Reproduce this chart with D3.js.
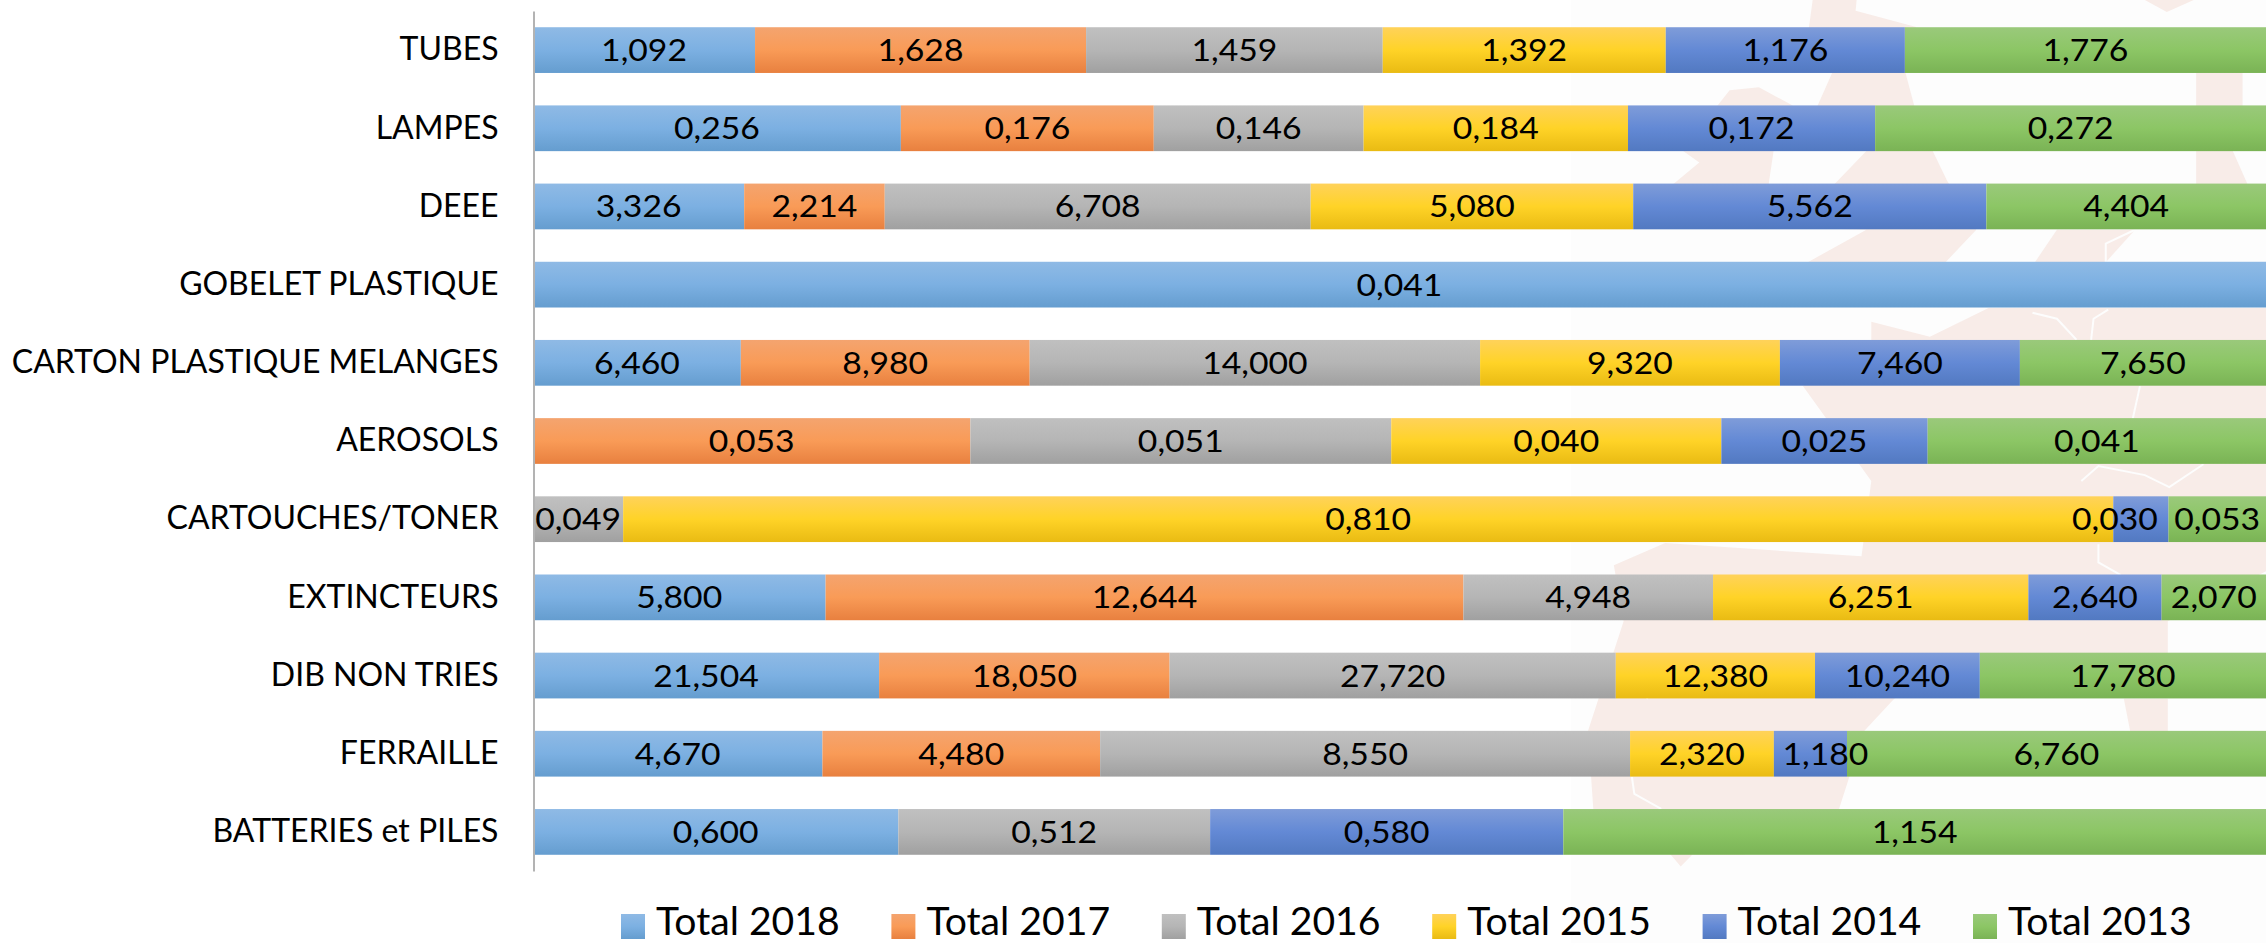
<!DOCTYPE html>
<html><head><meta charset="utf-8">
<script src="https://cdn.jsdelivr.net/npm/d3@7"></script>
<style>html,body{margin:0;padding:0;background:#fff}svg{display:block}text{font-family:Lato,"Noto Sans",sans-serif;fill:#000}</style>
</head><body><svg id="c" width="2266" height="943"></svg>
<script>
const categories=["TUBES","LAMPES","DEEE","GOBELET PLASTIQUE","CARTON PLASTIQUE MELANGES","AEROSOLS","CARTOUCHES/TONER","EXTINCTEURS","DIB NON TRIES","FERRAILLE","BATTERIES et PILES"];
const seriesNames=["Total 2018","Total 2017","Total 2016","Total 2015","Total 2014","Total 2013"];
const total2018=[1.092,0.256,3.326,0.041,6.460,0,0,5.800,21.504,4.670,0.600];
const total2017=[1.628,0.176,2.214,0,8.980,0.053,0,12.644,18.050,4.480,0];
const total2016=[1.459,0.146,6.708,0,14.000,0.051,0.049,4.948,27.720,8.550,0.512];
const total2015=[1.392,0.184,5.080,0,9.320,0.040,0.810,6.251,12.380,2.320,0];
const total2014=[1.176,0.172,5.562,0,7.460,0.025,0.030,2.640,10.240,1.180,0.580];
const total2013=[1.776,0.272,4.404,0,7.650,0.041,0.053,2.070,17.780,6.760,1.154];
const seriesValues=[total2018,total2017,total2016,total2015,total2014,total2013];
const gradients=[["#8fbae5","#7cb0e2","#659dcf"],["#f4a46f","#f99b57","#e8803f"],["#c0c0c0","#b5b5b5","#a0a0a0"],["#ffd25a","#ffd327","#e9bb13"],["#7f9cd9","#6389d5","#5279c1"],["#9ac97b","#8cc665","#7ab355"]];
// labels the original chart moved sideways to avoid collisions
const labelNudges={"CARTOUCHES/TONER|Total 2014":-26,"FERRAILLE|Total 2014":15};
// faint map watermark behind the plot (decoration, not data)
const watermark=[
 [[233,940],[338,903],[740,925],[760,800],[620,642],[760,565],[760,535],[880,560],[1000,512],[1568,512],[1568,950],[1367,1033],[1367,1086],[977,1086],[807,1162],[745,1216],[694,1345],[500,1421],[394,1421],[370,1441],[349,1421],[191,1345],[180,1216],[253,1033]],
 [[640,0],[730,0],[728,18],[852,45],[830,121],[848,176],[885,250],[915,300],[975,382],[912,436],[630,436],[750,382],[660,380],[685,306],[750,251],[660,251],[650,176],[680,121],[620,121]],
 [[560,251],[550,306],[355,306],[408,270],[375,251]],
 [[445,176],[470,150],[530,145],[600,176]],
 [[1320,0],[1420,0],[1365,20]],
 [[1425,121],[1520,121],[1520,176],[1500,251],[1530,306],[1425,306]],
 [[1095,436],[1140,382],[1300,382],[1240,436]],
 [[1277,1162],[1367,1162],[1367,1216],[1305,1292],[1290,1216]]
];
const watermarkLines=[
 [[1240,436],[1240,405],[1300,382]],
 [[1090,520],[1140,530],[1180,565]],
 [[1210,565],[1215,530],[1245,515]],
 [[1310,642],[1295,697]],
 [[1190,800],[1225,775],[1320,790],[1370,810],[1440,772]],
 [[1225,905],[1225,935],[1270,956]],
 [[310,1086],[330,1130],[300,1162]],
 [[270,1292],[275,1320],[330,1345]]
];
const fmt=v=>d3.format(".3f")(v).replace(".",",");
function stretch(sel,k){sel.each(function(){const l=this.getComputedTextLength();d3.select(this).attr("textLength",l*k).attr("lengthAdjust","spacingAndGlyphs");});}
const svg=d3.select("#c");
const W=2266,H=943;
const defs=svg.append("defs");
gradients.forEach((g,i)=>{const lg=defs.append("linearGradient").attr("id","g"+i).attr("x1",0).attr("y1",0).attr("x2",0).attr("y2",1);
 g.forEach((c,j)=>lg.append("stop").attr("offset",j/2).attr("stop-color",c));});
// background
svg.append("rect").attr("x",1571).attr("y",0).attr("width",W-1571).attr("height",H).attr("fill","#fdfdfd");
const wmX=d3.scaleLinear().domain([0,1568]).range([1500,2266]),wmY=d3.scaleLinear().domain([0,1568]).range([0,943]);
const wmLine=d3.line().x(d=>wmX(d[0])).y(d=>wmY(d[1]));
svg.append("g").selectAll("path").data(watermark).join("path").attr("d",p=>wmLine(p)+"Z").attr("fill","#f8ece8");
svg.append("g").selectAll("path").data(watermarkLines).join("path").attr("d",wmLine).attr("fill","none").attr("stroke","#fdfdfd").attr("stroke-width",2);
// scales
const x=d3.scaleLinear().domain([0,1]).range([533,2266]);
const y=d3.scaleBand().domain(categories).range([11,871]).paddingInner(0.415).paddingOuter(0.2075);
const rows=categories.map((c,i)=>{const o={cat:c};seriesNames.forEach((s,k)=>o[s]=seriesValues[k][i]);return o;});
const stacked=d3.stack().keys(seriesNames).offset(d3.stackOffsetExpand)(rows);
svg.append("g").selectAll("g").data(stacked).join("g").attr("fill",(d,i)=>`url(#g${i})`)
 .selectAll("rect").data(d=>d.filter(e=>e.data[d.key]>0)).join("rect")
 .attr("x",d=>x(d[0])).attr("width",d=>x(d[1])-x(d[0])).attr("y",d=>y(d.data.cat)).attr("height",y.bandwidth());
// value labels on top of all the bars
stacked.forEach(s=>{svg.append("g").selectAll("text").data(s.filter(e=>e.data[s.key]>0)).join("text")
 .attr("x",d=>(x(d[0])+x(d[1]))/2+(labelNudges[d.data.cat+"|"+s.key]||0)).attr("y",d=>y(d.data.cat)+y.bandwidth()/2).attr("dy","0.35em")
 .attr("text-anchor","middle").attr("font-size",31.5).text(d=>fmt(d.data[s.key])).call(stretch,1.07);});
// axis
const ax=svg.append("g").attr("transform","translate(533.5,0)").call(d3.axisLeft(y).tickSize(0).tickPadding(35));
ax.select(".domain").attr("stroke","#b3b3b3").attr("stroke-width",2);
ax.selectAll("text").attr("font-size",32).style("font-family",'Lato,"Noto Sans",sans-serif').attr("fill","#000");
// legend
const lx=d3.scalePoint().domain(seriesNames).range([621,1973]);
const lg=svg.append("g").selectAll("g").data(seriesNames).join("g").attr("transform",d=>`translate(${lx(d)},914)`);
lg.append("rect").attr("width",24).attr("height",25).attr("fill",(d,i)=>`url(#g${i})`);
lg.append("text").attr("x",35).attr("y",21).attr("font-size",38).text(d=>d).call(stretch,1.03);
</script></body></html>
